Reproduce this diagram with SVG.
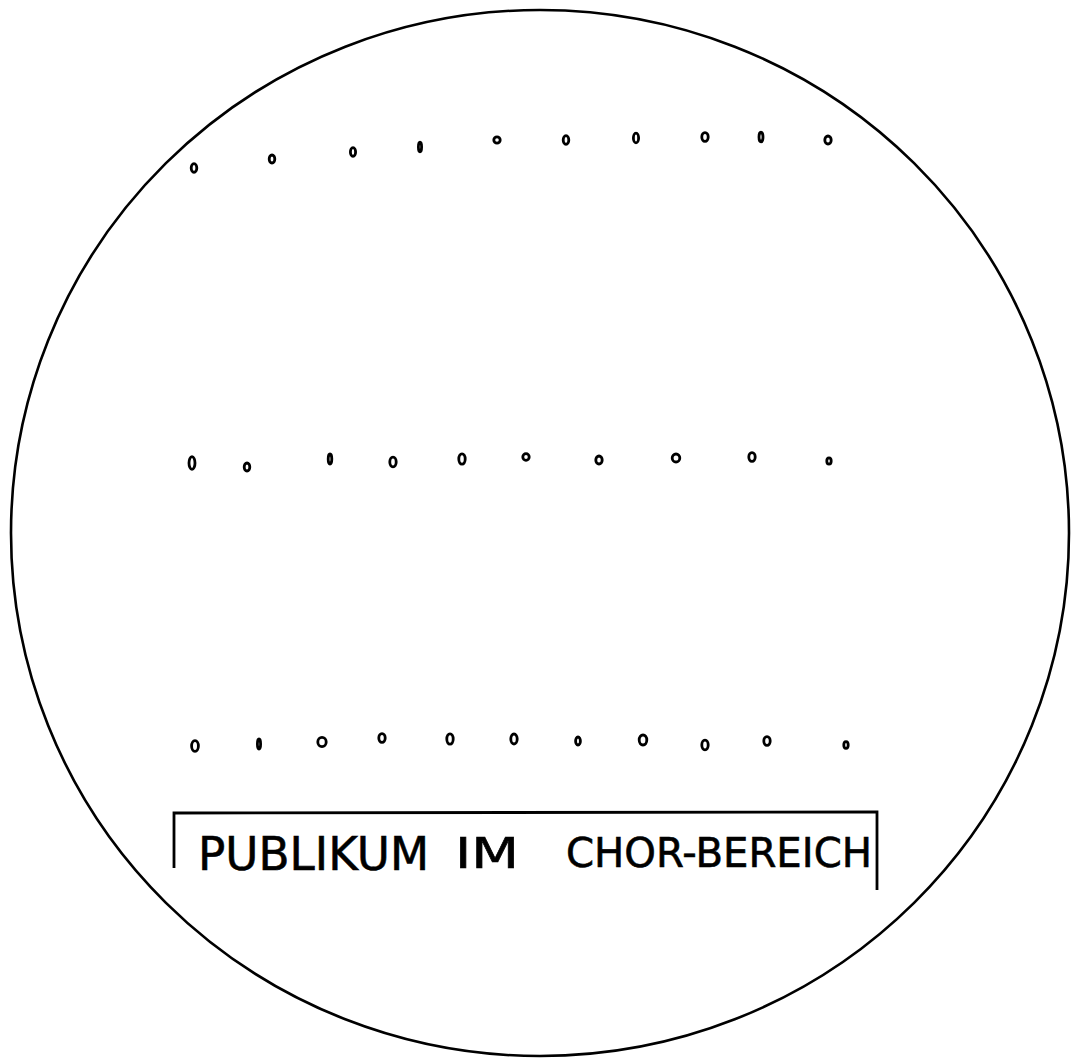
<svg xmlns="http://www.w3.org/2000/svg" width="1072" height="1059" viewBox="0 0 1072 1059">
  <style>
    .outline { fill: none; stroke: #000; stroke-width: 2.6; }
    .seat { fill: #fff; stroke: #000; stroke-width: 2.8; }
    .frame { fill: none; stroke: #000; stroke-width: 2.8; }
    .label { font-family: "DejaVu Sans", "Liberation Sans", sans-serif; fill: #000; stroke: #000; stroke-width: 0.6; }
  </style>
  <rect width="1072" height="1059" fill="#fff"/>
  <g id="circle">
    <ellipse class="outline" cx="540" cy="533" rx="529" ry="523"/>
  </g>
  <g id="row1">
    <ellipse class="seat" cx="194" cy="168" rx="2.8" ry="4.4"/>
    <ellipse class="seat" cx="272" cy="159" rx="2.8" ry="4"/>
    <ellipse class="seat" cx="353" cy="152" rx="2.6" ry="4.4"/>
    <ellipse class="seat" cx="420" cy="147" rx="1.6" ry="4.8"/>
    <ellipse class="seat" cx="497" cy="140" rx="3.2" ry="3.2"/>
    <ellipse class="seat" cx="566" cy="140" rx="2.8" ry="4.4"/>
    <ellipse class="seat" cx="636" cy="138" rx="2.6" ry="4.8"/>
    <ellipse class="seat" cx="705" cy="137" rx="3.2" ry="4.4"/>
    <ellipse class="seat" cx="761" cy="137" rx="2" ry="4.8"/>
    <ellipse class="seat" cx="828" cy="140" rx="3.2" ry="4"/>
  </g>
  <g id="row2">
    <ellipse class="seat" cx="192" cy="463" rx="3" ry="6.4"/>
    <ellipse class="seat" cx="247" cy="467" rx="2.8" ry="4"/>
    <ellipse class="seat" cx="330" cy="459" rx="1.8" ry="5"/>
    <ellipse class="seat" cx="393" cy="462" rx="3.2" ry="4.8"/>
    <ellipse class="seat" cx="462" cy="459" rx="3.2" ry="5.2"/>
    <ellipse class="seat" cx="526" cy="457" rx="3.2" ry="3.4"/>
    <ellipse class="seat" cx="599" cy="460" rx="3.2" ry="4"/>
    <ellipse class="seat" cx="676" cy="458" rx="3.8" ry="4"/>
    <ellipse class="seat" cx="752" cy="457" rx="3.2" ry="4.4"/>
    <ellipse class="seat" cx="829" cy="461" rx="2.2" ry="3.2"/>
  </g>
  <g id="row3">
    <ellipse class="seat" cx="195" cy="746" rx="3.4" ry="5.4"/>
    <ellipse class="seat" cx="259" cy="744" rx="1.6" ry="5"/>
    <ellipse class="seat" cx="322" cy="742" rx="4.2" ry="4.6"/>
    <ellipse class="seat" cx="382" cy="738" rx="3.2" ry="4.4"/>
    <ellipse class="seat" cx="450" cy="739" rx="3.2" ry="5.2"/>
    <ellipse class="seat" cx="514" cy="739" rx="3.2" ry="5"/>
    <ellipse class="seat" cx="578" cy="741" rx="2.4" ry="4"/>
    <ellipse class="seat" cx="643" cy="740" rx="3.8" ry="5"/>
    <ellipse class="seat" cx="705" cy="745" rx="3.2" ry="4.8"/>
    <ellipse class="seat" cx="767" cy="741" rx="3.2" ry="4.4"/>
    <ellipse class="seat" cx="846" cy="745" rx="2.2" ry="3.4"/>
  </g>
  <g id="label-box">
    <path class="frame" d="M174 868 L174 813 L877 812 L877 890"/>
    <text class="label" x="198" y="870" font-size="47" textLength="231" lengthAdjust="spacingAndGlyphs">PUBLIKUM</text>
    <text class="label" x="455" y="868" font-size="42" textLength="64" lengthAdjust="spacingAndGlyphs">IM</text>
    <text class="label" x="566" y="867" font-size="41" textLength="306" lengthAdjust="spacingAndGlyphs">CHOR-BEREICH</text>
  </g>
</svg>
